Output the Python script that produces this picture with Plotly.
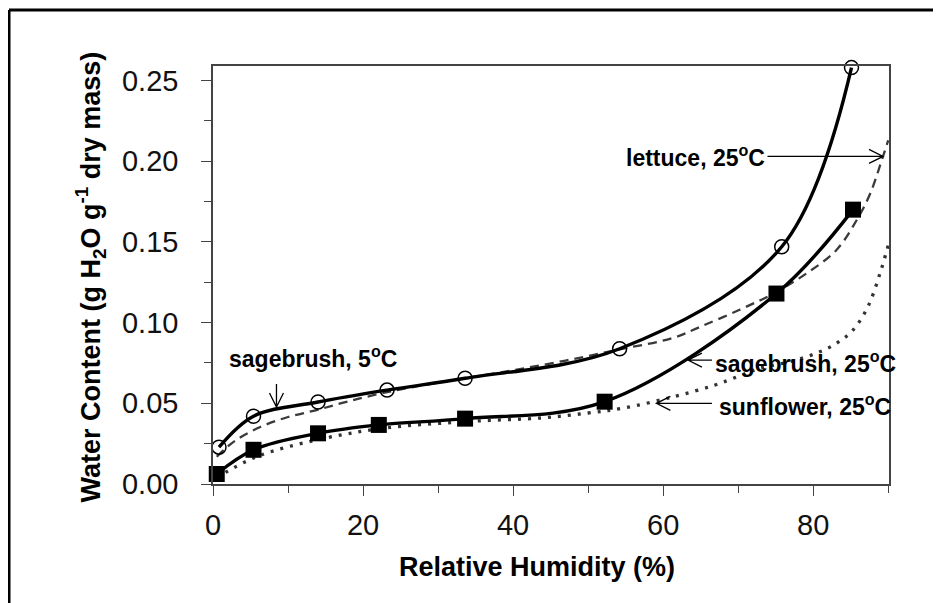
import plotly.graph_objects as go

# ---- data ----
sage5_x = [0.8, 5.4, 14.0, 23.2, 33.6, 54.2, 75.8, 85.1]
sage5_y = [0.0228, 0.0420, 0.0508, 0.0582, 0.0655, 0.0838, 0.1470, 0.2580]

sage25_x = [0.5, 5.4, 14.0, 22.1, 33.6, 52.2, 75.1, 85.3]
sage25_y = [0.0062, 0.0212, 0.0314, 0.0366, 0.0405, 0.0510, 0.1180, 0.1700]

lettuce_x = [0.5, 3.0, 6.3, 10.0, 13.8, 18.0, 22.7, 28.0, 33.6, 40.0, 47.0, 54.2,
             61.3, 65.0, 70.2, 74.7, 79.1, 83.1, 85.8, 87.6, 89.3, 90.0]
lettuce_y = [0.0169, 0.0270, 0.0353, 0.0415, 0.0458, 0.0512, 0.0564, 0.0612, 0.0655,
             0.0705, 0.0765, 0.0834, 0.0905, 0.0975, 0.1080, 0.1180, 0.1305, 0.1450,
             0.1636, 0.1800, 0.2030, 0.2130]

sunflower_x = [0.5, 5.8, 13.8, 22.7, 33.6, 44.0, 50.0, 54.7, 61.3, 66.7, 70.2, 72.9,
               76.9, 80.4, 83.1, 85.3, 87.3, 88.9, 90.0]
sunflower_y = [0.0040, 0.0169, 0.0273, 0.0345, 0.0386, 0.0410, 0.0440, 0.0470, 0.0540,
               0.0610, 0.0670, 0.0717, 0.0758, 0.0810, 0.0872, 0.0954, 0.1100, 0.1305,
               0.1480]

x_ticks = [0, 20, 40, 60, 80]
y_ticks = [0.00, 0.05, 0.10, 0.15, 0.20, 0.25]
y_tick_text = ["0.00", "0.05", "0.10", "0.15", "0.20", "0.25"]

# label texts and where their arrows point (tip) / start (tail), in data units
labels = ["sagebrush, 5<sup>o</sup>C", "lettuce, 25<sup>o</sup>C",
          "sagebrush, 25<sup>o</sup>C", "sunflower, 25<sup>o</sup>C"]

# ---- layout geometry (pixels, in the 941x603 window) ----
OFF = 8                      # page body margin
W, H = 941 - OFF, 603 - OFF
PL, PR, PT, PB = 213, 889, 66, 484   # plot area in window pixels
L, T = PL - OFF, PT - OFF
R, B = W - (PR - OFF), H - (PB - OFF)
PW, PH = W - L - R, H - T - B
XR = [0, 90.1]
YR = [0, 0.259]
XPX = PW / (XR[1] - XR[0])     # px per x unit
YPX = PH / (YR[1] - YR[0])     # px per y unit


def px_x(px):
    return (px - PL) / PW


def px_y(py):
    return (PB - py) / PH


FONT = "Liberation Sans, Arial, sans-serif"

fig = go.Figure()

fig.add_trace(go.Scatter(
    x=lettuce_x, y=lettuce_y, mode="lines", line_shape="spline",
    line=dict(color="#3a3a3a", width=2.3, dash="9px,6px"), hoverinfo="skip"))
fig.add_trace(go.Scatter(
    x=sunflower_x, y=sunflower_y, mode="lines", line_shape="spline",
    line=dict(color="#333333", width=3.3, dash="3px,7px"), hoverinfo="skip"))
fig.add_trace(go.Scatter(
    x=sage5_x, y=sage5_y, mode="lines+markers", line_shape="spline",
    line=dict(color="black", width=3.4, smoothing=1),
    marker=dict(symbol="circle-open", size=14, color="black", line=dict(width=1.5)),
    cliponaxis=False))
fig.add_trace(go.Scatter(
    x=sage25_x, y=sage25_y, mode="lines+markers", line_shape="spline",
    line=dict(color="black", width=3.4, smoothing=1),
    marker=dict(symbol="square", size=16, color="black"),
    cliponaxis=False))

annotations = []
lbl_font = dict(family=FONT, size=23, color="black")
label_pos = [  # (x, y, xanchor)
    (13.3, 0.0787, "center"),
    (73.8, 0.2030, "right"),
    (66.6, 0.0756, "left"),
    (67.2, 0.0490, "left"),
]
for txt, (lx, ly, xa) in zip(labels, label_pos):
    annotations.append(dict(text="<b>" + txt + "</b>", x=lx, y=ly, xref="x", yref="y",
                            showarrow=False, font=lbl_font, xanchor=xa,
                            yanchor="middle"))

# axis titles
annotations.append(dict(
    text="<b>Water Content (g H<sub>2</sub>O g<sup>-1</sup> dry mass)</b>",
    x=px_x(90), y=px_y(277.5), xref="paper", yref="paper", showarrow=False,
    textangle=-90, xanchor="center", yanchor="middle",
    font=dict(family=FONT, size=27, color="black")))
annotations.append(dict(
    text="<b>Relative Humidity (%)</b>",
    x=px_x(537), y=px_y(567), xref="paper", yref="paper", showarrow=False,
    xanchor="center", yanchor="middle",
    font=dict(family=FONT, size=27, color="black")))

shapes = [
    dict(type="line", xref="paper", yref="paper", x0=px_x(9), y0=px_y(10),
         x1=px_x(960), y1=px_y(10), line=dict(color="black", width=3)),
    dict(type="line", xref="paper", yref="paper", x0=px_x(9), y0=px_y(10),
         x1=px_x(9), y1=px_y(640), line=dict(color="black", width=3)),
]

# arrows: (tip x, tip y, tail x, tail y) in data units; open "V" heads
arrows = [
    (8.46, 0.0477, 8.46, 0.0620),
    (89.3, 0.2030, 73.9, 0.2030),
    (63.3, 0.0768, 66.5, 0.0768),
    (59.1, 0.0500, 66.5, 0.0500),
]
HEAD_LEN, HEAD_HALF = 14.0, 7.0   # px
for tx, ty, ax, ay in arrows:
    # direction in pixel space (y up)
    dxp, dyp = (tx - ax) * XPX, (ty - ay) * YPX
    n = (dxp ** 2 + dyp ** 2) ** 0.5
    ux, uy = dxp / n, dyp / n
    px_, py_ = -uy, ux
    pts = []
    for s in (1, -1):
        hx = tx + (-ux * HEAD_LEN + s * px_ * HEAD_HALF) / XPX
        hy = ty + (-uy * HEAD_LEN + s * py_ * HEAD_HALF) / YPX
        pts.append((hx, hy))
    path = (f"M {ax},{ay} L {tx},{ty} "
            f"M {pts[0][0]},{pts[0][1]} L {tx},{ty} L {pts[1][0]},{pts[1][1]}")
    shapes.append(dict(type="path", xref="x", yref="y", path=path,
                       line=dict(color="black", width=1.3)))

fig.update_layout(
    width=W, height=H,
    margin=dict(l=L, r=R, t=T, b=B, pad=0),
    paper_bgcolor="white", plot_bgcolor="white",
    showlegend=False,
    annotations=annotations, shapes=shapes,
    xaxis=dict(range=XR, tickvals=x_ticks, ticks="outside", ticklen=10,
               tickwidth=1.3, tickcolor="#444", showline=True, linecolor="#444",
               linewidth=1.5, mirror=True, showgrid=False, zeroline=False,
               tickfont=dict(family=FONT, size=29, color="#111"),
               ticklabelstandoff=4,
               minor=dict(dtick=10, tick0=0, ticks="outside", ticklen=7,
                          tickwidth=1.3, tickcolor="#444", showgrid=False)),
    yaxis=dict(range=YR, tickvals=y_ticks, ticktext=y_tick_text,
               ticks="outside", ticklen=10, tickwidth=1.3, tickcolor="#444",
               showline=True, linecolor="#444", linewidth=1.5, mirror=True,
               showgrid=False, zeroline=False,
               tickfont=dict(family=FONT, size=29, color="#111"),
               ticklabelstandoff=17,
               minor=dict(dtick=0.025, tick0=0, ticks="outside", ticklen=7,
                          tickwidth=1.3, tickcolor="#444", showgrid=False)),
)

fig.write_html("out.html")
